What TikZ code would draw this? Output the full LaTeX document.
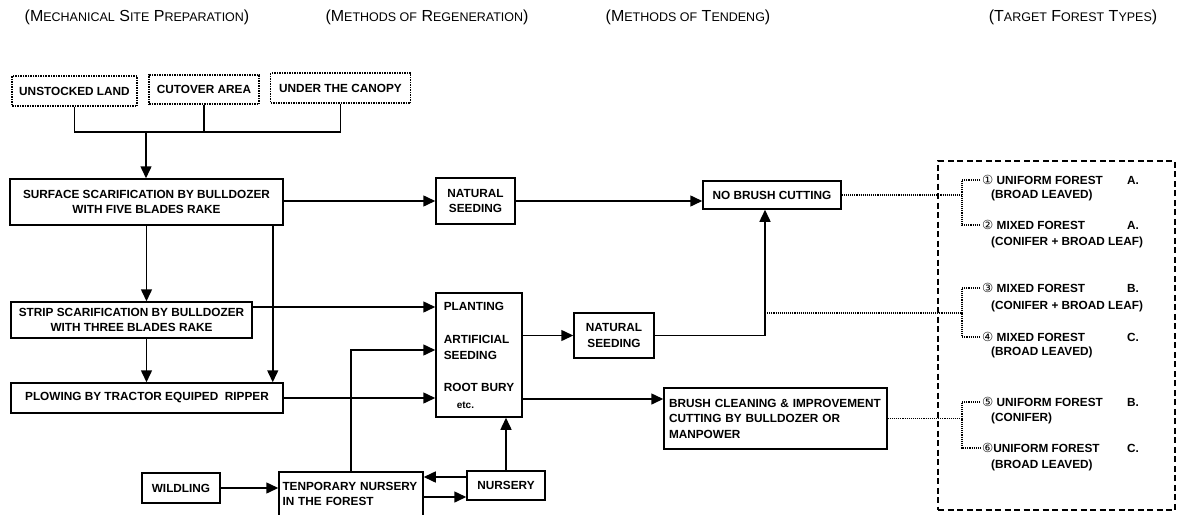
\documentclass[tikz,border=0pt]{standalone}
\usepackage{fontspec}
\setmainfont{Liberation Sans}
\newfontfamily\circfont{DejaVu Sans}
\usetikzlibrary{arrows.meta, positioning}
\newcommand{\smallcap}[1]{{\fontsize{12.5}{14}\selectfont #1}}
\newcommand{\circnum}[1]{{\circfont\mdseries\fontsize{12.5}{14}\selectfont #1}}
\tikzset{
    box/.style={
        rectangle, draw=black, line width=1.5pt, inner sep=4pt,
        font=\fontsize{11.8}{15.5}\selectfont\bfseries, align=center
    },
    sitebox/.style={box, densely dotted, line width=1.3pt},
    leftbox/.style={box, align=left},
    targetbox/.style={rectangle, draw=black, line width=1.3pt, dash pattern=on 6pt off 3.5pt},
    arrow/.style={-{Triangle[length=12pt, width=11pt]}, line width=1.5pt},
    plain/.style={line width=1.5pt},
    link/.style={densely dotted, line width=1.1pt},
    header/.style={font=\fontsize{16}{18}\selectfont},
    forest/.style={anchor=west, inner sep=0pt, font=\fontsize{11.8}{14}\selectfont\bfseries},
}
\begin{document}
\begin{tikzpicture}[x=1pt, y=-1pt]
    \useasboundingbox (0,0) rectangle (1182,514);

    % column headers
    \node[header] (hsite) at (137,17) {(M\smallcap{ECHANICAL} S\smallcap{ITE} P\smallcap{REPARATION})};
    \node[header] (hregen) at (427,17) {(M\smallcap{ETHODS OF} R\smallcap{EGENERATION})};
    \node[header] (htend) at (688,17) {(M\smallcap{ETHODS OF} T\smallcap{ENDENG})};
    \node[header] (htarget) at (1073,17) {(T\smallcap{ARGET} F\smallcap{OREST} T\smallcap{YPES})};

    % site conditions
    \node[sitebox, minimum width=125, minimum height=30] (unstocked) at (74.5,91) {UNSTOCKED LAND};
    \node[sitebox, minimum width=110, minimum height=29] (cutover) at (204,89.5) {CUTOVER AREA};
    \node[sitebox, minimum width=140, minimum height=30] (canopy) at (340.5,88) {UNDER THE CANOPY};

    % mechanical site preparation
    \node[box, minimum width=273, minimum height=46] (surface) at (146.5,202) {SURFACE SCARIFICATION BY BULLDOZER\\WITH FIVE BLADES RAKE};
    \node[box, minimum width=241, minimum height=36] (strip) at (131.5,320) {STRIP SCARIFICATION BY BULLDOZER\\WITH THREE BLADES RAKE};
    \node[box, minimum width=272, minimum height=30] (plowing) at (147,398) {PLOWING BY TRACTOR EQUIPED\ \ RIPPER};

    % regeneration
    \node[box, minimum width=79, minimum height=46] (natseedA) at (475.5,201) {NATURAL\\SEEDING};
    \node[leftbox, minimum width=86, minimum height=124, font=\fontsize{11.8}{16}\selectfont\bfseries] (planting) at (479,355) {PLANTING\\[17pt]ARTIFICIAL\\SEEDING\\[16pt]ROOT BURY\\[1pt]\hspace*{13pt}{\fontsize{10}{11}\selectfont etc.}};
    \node[box, minimum width=80, minimum height=45] (natseedB) at (614,335.5) {NATURAL\\SEEDING};
    \node[box, minimum width=78, minimum height=30] (wildling) at (181,488) {WILDLING};
    \node[leftbox, text width=137, inner xsep=3.5pt, minimum height=44] (tempnursery) at (351,494) {TENPORARY NURSERY\\IN THE FOREST};
    \node[box, minimum width=78, minimum height=29] (nursery) at (506,485.5) {NURSERY};

    % tending
    \node[box, minimum width=138, minimum height=28] (nobrush) at (772,195) {NO BRUSH CUTTING};
    \node[leftbox, text width=213, inner xsep=5pt, minimum height=61] (brush) at (775.5,418.5) {BRUSH CLEANING \& IMPROVEMENT\\CUTTING BY BULLDOZER OR\\MANPOWER};

    % target forest types
    \node[targetbox, minimum width=237, minimum height=349] (target) at (1056.5,335.5) {};
    \node[forest] (t1) at (982,180) {\makebox[145pt][l]{\circnum{①} UNIFORM FOREST}A.};
    \node[forest] (t1b) at (991,195) {(BROAD LEAVED)};
    \node[forest] (t2) at (982,225) {\makebox[145pt][l]{\circnum{②} MIXED FOREST}A.};
    \node[forest] (t2b) at (991,242) {(CONIFER + BROAD LEAF)};
    \node[forest] (t3) at (982,288) {\makebox[145pt][l]{\circnum{③} MIXED FOREST}B.};
    \node[forest] (t3b) at (991,306) {(CONIFER + BROAD LEAF)};
    \node[forest] (t4) at (982,337) {\makebox[145pt][l]{\circnum{④} MIXED FOREST}C.};
    \node[forest] (t4b) at (991,352) {(BROAD LEAVED)};
    \node[forest] (t5) at (982,402) {\makebox[145pt][l]{\circnum{⑤} UNIFORM FOREST}B.};
    \node[forest] (t5b) at (991,418) {(CONIFER)};
    \node[forest] (t6) at (982,448) {\makebox[145pt][l]{\circnum{⑥}UNIFORM FOREST}C.};
    \node[forest] (t6b) at (991,465) {(BROAD LEAVED)};

    \coordinate (merge) at (146,132);
    \coordinate (tap) at (765,313);
    \coordinate (brk1) at (962,195);
    \coordinate (brk2) at (962,313);
    \coordinate (brk3) at (962,418.5);

    % site conditions to surface scarification
    \draw[plain] (unstocked.south) |- (merge) -| (canopy.south);
    \draw[plain] (cutover.south) -- (cutover.south |- merge);
    \draw[arrow] (merge) -- (merge |- surface.north);

    % site preparation flow
    \draw[arrow] (surface.south) -- (surface.south |- strip.north);
    \draw[arrow] (surface.south |- strip.south) -- (surface.south |- plowing.north);
    \draw[arrow] ([xshift=-11pt]surface.south east) -- ([xshift=-11pt]surface.south east |- plowing.north);
    \draw[arrow] (surface.east |- natseedA.west) -- (natseedA.west);
    \draw[arrow] (strip.east |- 0,307) -- (planting.west |- 0,307);
    \draw[arrow] (plowing.east) -- (plowing.east -| planting.west);

    % seedlings
    \draw[arrow] (wildling.east) -- (wildling.east -| tempnursery.west);
    \draw[arrow] (tempnursery.north) |- (planting.west |- 0,350);
    \draw[arrow] (nursery.west |- 0,477) -- (tempnursery.east |- 0,477);
    \draw[arrow] (tempnursery.east |- 0,497) -- (nursery.west |- 0,497);
    \draw[arrow] (nursery.north) -- (nursery.north |- planting.south);

    % regeneration to tending
    \draw[arrow] (natseedA.east) -- (natseedA.east -| nobrush.west);
    \draw[arrow] (planting.east |- natseedB.west) -- (natseedB.west);
    \draw[arrow] (natseedB.east) -| (tap) -- (tap |- nobrush.south);
    \draw[arrow] (planting.east |- 0,399) -- (brush.west |- 0,399);

    % tending to target forest types
    \draw[link] (nobrush.east) -- (brk1);
    \draw[link] (tap) -- (brk2);
    \draw[link] (brush.east) -- (brush.east -| brk3);
    \draw[link] ([xshift=-2pt]t1.west) -| (brk1) |- ([xshift=-2pt]t2.west);
    \draw[link] ([xshift=-2pt]t3.west) -| (brk2) |- ([xshift=-2pt]t4.west);
    \draw[link] ([xshift=-2pt]t5.west) -| (brk3) |- ([xshift=-2pt]t6.west);
\end{tikzpicture}
\end{document}
